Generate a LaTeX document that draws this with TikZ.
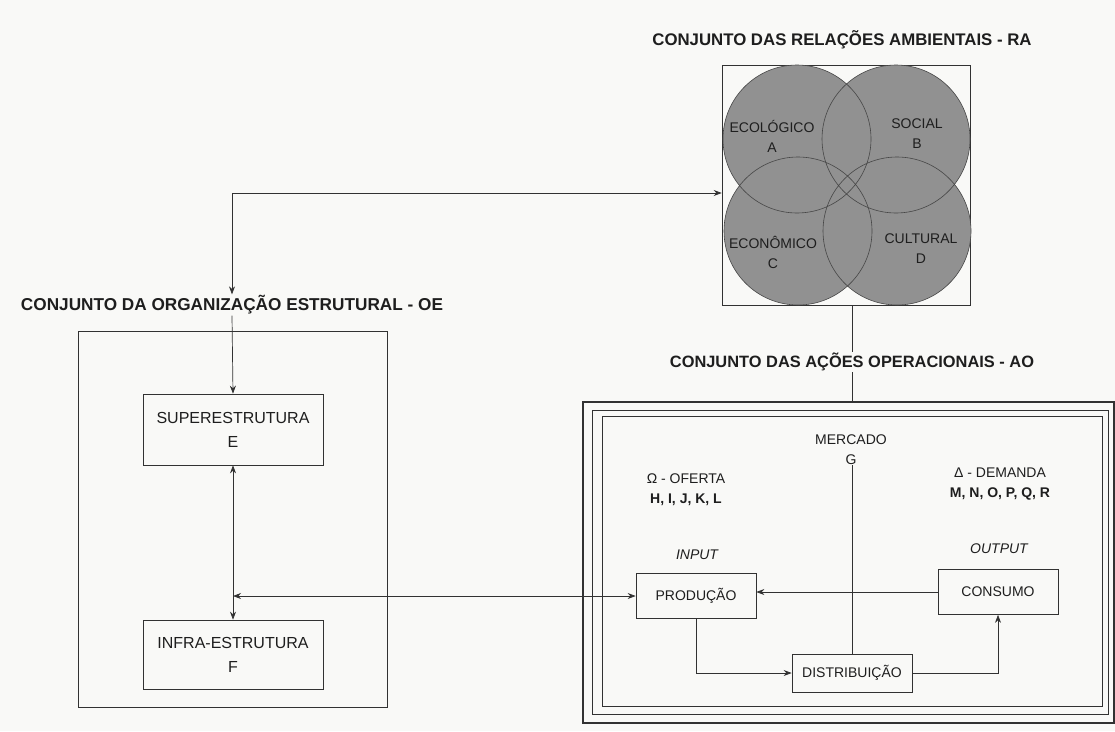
\documentclass[tikz,border=0pt]{standalone}
\usepackage{fontspec}
\setmainfont{Liberation Sans}
\usetikzlibrary{arrows.meta,calc}
\definecolor{paper}{RGB}{249,249,247}
\definecolor{ink}{RGB}{50,50,50}
\definecolor{txt}{RGB}{30,30,30}
\definecolor{circfill}{RGB}{145,145,145}
\definecolor{circline}{RGB}{70,70,70}
\tikzset{
  ttl/.style={font=\fontsize{16.8}{18}\selectfont\bfseries, text=txt, inner sep=1pt},
  lbl/.style={font=\fontsize{14}{20}\selectfont, text=txt, align=center, inner sep=0pt},
  bigbox/.style={draw=ink, line width=0.7pt, minimum width=180pt, align=center,
     font=\fontsize{16}{24}\selectfont, text=txt},
  smallbox/.style={draw=ink, line width=0.7pt, minimum width=120pt,
     font=\fontsize{14}{16}\selectfont, text=txt},
  conn/.style={draw=ink, line width=0.7pt},
  arr/.style={conn, -{Stealth[length=8pt,width=6pt]}},
  darr/.style={conn, {Stealth[length=8pt,width=6pt]}-{Stealth[length=8pt,width=6pt]}},
}
\begin{document}
\begin{tikzpicture}[x=1pt,y=-1pt]
\fill[paper] (0,0) rectangle (1115,731);
\useasboundingbox (0,0) rectangle (1115,731);

% ---------- RA ----------
\node[ttl] (rat) at (842,40) {CONJUNTO DAS RELAÇÕES AMBIENTAIS - RA};
\node[draw=ink, line width=0.6pt, minimum width=248pt, minimum height=240pt, inner sep=0pt] (ra) at (846,185) {};
\fill[circfill] (797,139) circle (74) (896,139) circle (74) (798,231) circle (74) (897,231) circle (74);
\draw[circline, line width=0.6pt] (797,139) circle (74) (896,139) circle (74) (798,231) circle (74) (897,231) circle (74);
\node[lbl] (ca) at (772,136) {ECOLÓGICO\\A};
\node[lbl] (cb) at (917,134) {SOCIAL\\B};
\node[lbl] (cc) at (773,252) {ECONÔMICO\\C};
\node[lbl] (cd) at (921,249) {CULTURAL\\D};

% ---------- OE ----------
\node[ttl, font=\fontsize{17.2}{18}\selectfont\bfseries] (oet) at (232,305) {CONJUNTO DA ORGANIZAÇÃO ESTRUTURAL - OE};
\node[draw=ink, line width=0.7pt, minimum width=309pt, minimum height=376pt, inner sep=0pt] (oe) at (232.5,519) {};
\node[bigbox, minimum height=71pt] (sup) at (233,429.5) {SUPERESTRUTURA\\E};
\node[bigbox, minimum height=69pt] (inf) at (233,654.5) {INFRA-ESTRUTURA\\F};

\coordinate (rain) at (ra.west |- 0,193);
\draw[darr] (rain) -| (oet.north);
\draw[arr] (oet.south) -- (sup.north);
\draw[darr] (sup.south) -- (inf.north);

% ---------- AO ----------
\node[ttl, font=\fontsize{16.4}{18}\selectfont\bfseries] (aot) at (852,362) {CONJUNTO DAS AÇÕES OPERACIONAIS - AO};
\node[draw=ink, line width=1.6pt, minimum width=531pt, minimum height=321pt, inner sep=0pt] (ao) at (848.5,562.5) {};
\node[draw=ink, line width=0.6pt, minimum width=516pt, minimum height=304pt, inner sep=0pt] (aom) at (850,562) {};
\node[draw=ink, line width=0.6pt, minimum width=500pt, minimum height=290pt, inner sep=0pt] (aoi) at (852,561) {};

\draw[conn] (ra.south -| aot.north) -- (aot.north);
\draw[conn] (aot.south) -- (aot.south |- ao.north);

\node[lbl] (merc) at (851,450) {MERCADO\\G};
\node[lbl] (ofer) at (686,490) {Ω - OFERTA\\\textbf{H, I, J, K, L}};
\node[lbl] (dem) at (1000,484) {Δ - DEMANDA\\\textbf{M, N, O, P, Q, R}};
\node[lbl, font=\fontsize{14}{16}\selectfont\itshape] (inp) at (697,555) {INPUT};
\node[lbl, font=\fontsize{14}{16}\selectfont\itshape] (outp) at (999,549) {OUTPUT};

\node[smallbox, minimum height=45pt] (prod) at (696,596) {PRODUÇÃO};
\node[smallbox, minimum height=45pt] (cons) at (998,592) {CONSUMO};
\node[smallbox, minimum height=38pt] (dist) at (852,673) {DISTRIBUIÇÃO};

\draw[conn] (merc.south -| dist.north) -- (dist.north);
\draw[arr] (cons.west) -- (cons.west -| prod.east);
\draw[arr] (prod.south) |- (dist.west);
\draw[arr] (dist.east) -| (cons.south);

\coordinate (jn) at (sup.south |- prod.west);
\draw[darr] (prod.west) -- (jn);
\end{tikzpicture}
\end{document}
